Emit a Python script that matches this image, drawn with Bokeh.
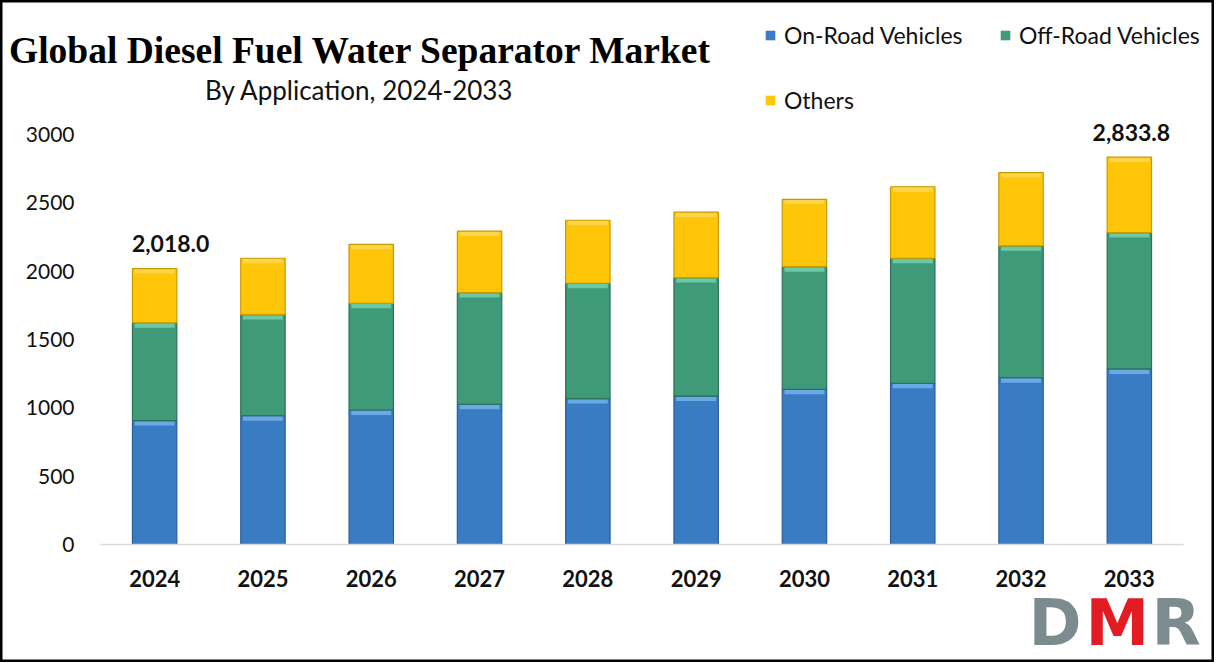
import numpy as np
from bokeh.plotting import figure
from bokeh.models import Range1d, FixedTicker, Label, Legend, LegendItem
from bokeh.embed import file_html
from bokeh.resources import INLINE
from bokeh.core.properties import value

# ---------------- data ----------------
years = [2024, 2025, 2026, 2027, 2028, 2029, 2030, 2031, 2032, 2033]
on_road = [906, 942, 984, 1026, 1067, 1086, 1135, 1179, 1220, 1284]
off_road = [716, 739, 780, 816, 844, 866, 897, 915, 964, 997]
others = [396, 413, 432, 451, 461, 480, 493, 523, 536, 552.8]
series_names = ["On-Road Vehicles", "Off-Road Vehicles", "Others"]
y_ticks = [0, 500, 1000, 1500, 2000, 2500, 3000]
labeled_years = [2024, 2033]
title_text = "Global Diesel Fuel Water Separator Market"
subtitle_text = "By Application, 2024-2033"

# ---------------- styles ----------------
fills = ["#3A7CC4", "#3E9A78", "#FFC508"]
highlights = ["#68A9E6", "#6CC9A5", "#FFD647"]
edges = ["#2B5E98", "#2C7257", "#C89A00"]
label_dx = [16, 2]   # pixel nudges of the two total labels

W, H = 1214, 662
FRAME_L, FRAME_B = 100, 544          # pixel position of plot origin
PX_PER_YEAR = 108.3
UNITS_PER_PX = 7.315
x_lo = years[0] - 0.5
x_start = x_lo - FRAME_L / PX_PER_YEAR
x_end = x_lo + (W - FRAME_L) / PX_PER_YEAR
y_start = -(H - FRAME_B) * UNITS_PER_PX
y_end = FRAME_B * UNITS_PER_PX


def sx(px):
    return x_lo + (px - FRAME_L) / PX_PER_YEAR


def sy(py):
    return (FRAME_B - py) * UNITS_PER_PX


p = figure(width=W, height=H, x_range=Range1d(x_start, x_end), y_range=Range1d(y_start, y_end),
           output_backend="svg", toolbar_location=None, title=None,
           min_border=0, min_border_left=0, min_border_right=0, min_border_top=0,
           min_border_bottom=0)
p.outline_line_color = "#000000"
p.outline_line_width = 4
p.grid.visible = False
p.background_fill_color = "white"
p.border_fill_color = "white"

series = [np.array(on_road, float), np.array(off_road, float), np.array(others, float)]
bottom = np.zeros(len(years))
bar_w = 0.41
legend_items = []
for name, vals, fc, hc, ec in zip(series_names, series, fills, highlights, edges):
    top = bottom + vals
    r = p.vbar(x=years, bottom=bottom, top=top, width=bar_w, fill_color=fc, line_color=None)
    p.vbar(x=years, bottom=top - 36, top=top, width=bar_w * 0.9, fill_color=hc, line_color=None)
    p.vbar(x=years, bottom=bottom, top=top, width=bar_w, fill_color=None, line_color=ec, line_width=1.2)
    legend_items.append(LegendItem(label=name, renderers=[r]))
    bottom = top

totals = bottom
for yr, dx in zip(labeled_years, label_dx):
    i = years.index(yr)
    p.text(x=[years[i]], y=[totals[i]], text=["{:,.1f}".format(totals[i])],
           text_align="center", text_baseline="middle", y_offset=-25, x_offset=dx,
           text_font=value("Lato"), text_font_style="bold", text_font_size="23px",
           text_color="#111111")

# axes (drawn inside the full-canvas frame at fixed data locations)
p.yaxis.fixed_location = x_lo
p.yaxis.ticker = FixedTicker(ticks=y_ticks)
p.yaxis.axis_line_color = None
p.yaxis.major_tick_line_color = None
p.yaxis.minor_tick_line_color = None
p.yaxis.major_label_text_font = "Lato"
p.yaxis.major_label_text_font_size = "21px"
p.yaxis.major_label_text_color = "#111111"
p.yaxis.major_label_standoff = 20

p.xaxis.fixed_location = 0
p.xaxis.ticker = FixedTicker(ticks=years)
p.xaxis.major_label_overrides = {y: str(y) for y in years}
p.xaxis.bounds = (x_lo, years[-1] + 0.5)
p.xaxis.axis_line_color = "#D9D9D9"
p.xaxis.axis_line_width = 1.5
p.xaxis.major_tick_line_color = None
p.xaxis.minor_tick_line_color = None
p.xaxis.major_label_text_font = "Lato"
p.xaxis.major_label_text_font_style = "bold"
p.xaxis.major_label_text_font_size = "22px"
p.xaxis.major_label_text_color = "#111111"
p.xaxis.major_label_standoff = 19

# legend (location = bottom-left corner, pixels from the frame's bottom-left)
legend = Legend(items=legend_items, location=(764, H - 115), orientation="horizontal", ncols=2,
                label_text_font="Lato", label_text_font_size="23px", label_text_color="#111111",
                glyph_width=12, glyph_height=12, label_standoff=8, label_height=30,
                label_width=180, spacing=35, padding=0, margin=0,
                background_fill_alpha=0, border_line_color=None)
p.add_layout(legend)

# titles
p.add_layout(Label(x=sx(360), y=sy(50), text=title_text, text_align="center", text_baseline="middle",
                   text_font="Liberation Serif", text_font_style="bold", text_font_size="37.5px",
                   text_color="#000000"))
p.add_layout(Label(x=sx(359), y=sy(89), text=subtitle_text, text_align="center", text_baseline="middle",
                   text_font="Lato", text_font_size="26px", text_color="#111111"))

# DMR logo
for ch, px, col in [("D", 1028, "#7B8B8E"), ("M", 1085, "#E31B23"), ("R", 1151, "#7B8B8E")]:
    p.add_layout(Label(x=sx(px), y=sy(622), text=ch, text_align="left", text_baseline="middle",
                       text_font="DejaVu Sans", text_font_style="bold", text_font_size="64px",
                       text_color=col))

open("out.html", "w").write(file_html(p, INLINE))
